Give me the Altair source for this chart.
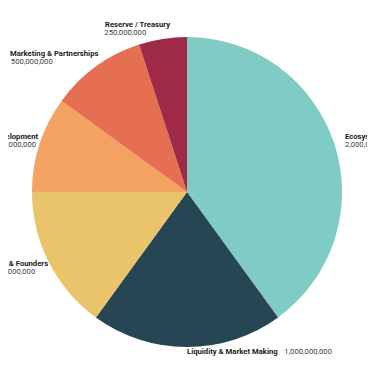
import altair as alt
import pandas as pd

names = ["Ecosystem", "Liquidity & Market Making", "Team & Founders", "Development",
         "Marketing & Partnerships", "Reserve / Treasury"]
values = [2000000000, 1000000000, 750000000, 500000000, 500000000, 250000000]
colors = ["#80CBC4", "#264653", "#E9C46A", "#F4A261", "#E76F51", "#9E2A48"]

df = pd.DataFrame({"name": names, "value": values, "idx": list(range(len(names)))})
df["label"] = df["value"].map(lambda v: f"{v:,}")

W, H = 359, 350
CX, CY, R, LR = 179, 184, 155, 166
FONT = "Roboto"
FS = 7.7

base = alt.Chart(df).transform_joinaggregate(
    total="sum(value)"
).transform_window(
    cum="sum(value)", sort=[alt.SortField("idx")]
).transform_calculate(
    mid="(datum.cum - datum.value/2) / datum.total * 2 * PI",
    ax=f"{CX} + {LR} * sin(datum.mid)",
    ay=f"{CY} - {LR} * cos(datum.mid)",
    left="sin(datum.mid) < -0.001",
    nw="length(datum.name) * 3.65",
    bw="max(datum.nw, length(datum.label) * 4.0)",
    nx="datum.left ? datum.ax + 9 : datum.ax",
    lx="datum.left ? datum.ax + 9 - datum.bw : datum.ax",
    ny=f"min(datum.ay - 3.5, {H} - 6)",
    low=f"datum.ay + 8 > {H}",
    vx="datum.low ? datum.lx + datum.nw + 6 : datum.lx",
    vy="datum.low ? datum.ny : datum.ay + 4.5",
)

pie = alt.Chart(df).mark_arc(outerRadius=R, x=CX, y=CY).encode(
    theta=alt.Theta("value:Q", stack=True),
    order=alt.Order("idx:Q", sort="ascending"),
    color=alt.Color("name:N", scale=alt.Scale(domain=names, range=colors), legend=None),
)

name_right = base.transform_filter("datum.left").mark_text(
    align="right", baseline="middle", font=FONT, fontSize=FS, fontWeight="bold",
    color="#1a1a1a").encode(
    x=alt.X("nx:Q", scale=None), y=alt.Y("ny:Q", scale=None), text="name:N")
name_left = base.transform_filter("!datum.left").mark_text(
    align="left", baseline="middle", font=FONT, fontSize=FS, fontWeight="bold",
    color="#1a1a1a").encode(
    x=alt.X("nx:Q", scale=None), y=alt.Y("ny:Q", scale=None), text="name:N")
val_txt = base.mark_text(align="left", baseline="middle", font=FONT,
                         fontSize=FS, color="#3a3a3a").encode(
    x=alt.X("vx:Q", scale=None), y=alt.Y("vy:Q", scale=None), text="label:N")

chart = alt.layer(pie, name_right, name_left, val_txt).properties(
    width=W, height=H, autosize=alt.AutoSizeParams(type="none"), padding=0
).configure_view(stroke=None)

chart.save("out.html", embed_options={"renderer": "svg", "actions": False})
